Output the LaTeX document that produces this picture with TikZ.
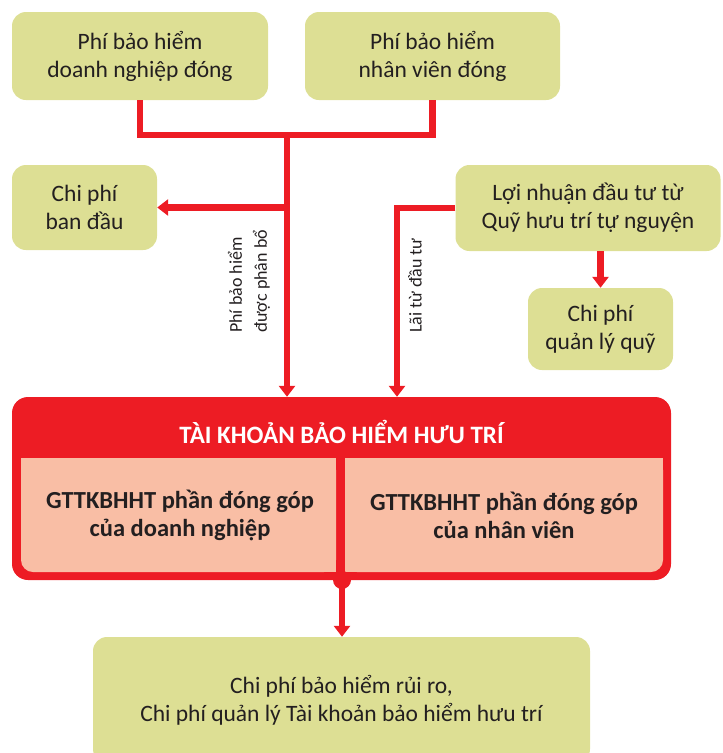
\documentclass[tikz,border=0pt]{standalone}
\usepackage{fontspec}
\setmainfont{Carlito}
\usetikzlibrary{arrows.meta}
\definecolor{boxg}{RGB}{221,223,148}
\definecolor{myred}{RGB}{237,28,36}
\definecolor{salmon}{RGB}{249,190,165}
\definecolor{txt}{RGB}{35,31,32}
\begin{document}
\begin{tikzpicture}[x=1pt,y=-1pt,
  gbox/.style={fill=boxg, rounded corners=14pt, align=center, text=txt,
    font=\fontsize{23.5}{28}\selectfont, inner sep=0pt},
  conn/.style={draw=myred, line width=6.5pt},
  arr/.style={conn, -{Triangle[length=11pt,width=16pt]}},
  rlabel/.style={rotate=90, align=left, text=txt, font=\fontsize{18}{25}\selectfont, inner sep=0pt, anchor=west},
  cell/.style={align=center, text=txt, font=\bfseries\fontsize{24.5}{28}\selectfont, inner sep=0pt}]
\useasboundingbox (0,0) rectangle (723,753);
% top boxes
\node[gbox, minimum width=256pt, minimum height=88pt] (b1) at (140,56) {Phí bảo hiểm\\doanh nghiệp đóng};
\node[gbox, minimum width=255pt, minimum height=88pt] (b2) at (432.5,56) {Phí bảo hiểm\\nhân viên đóng};
\node[gbox, minimum width=145pt, minimum height=85pt] (ban) at (84.5,207.5) {Chi phí\\ban đầu};
\node[gbox, minimum width=265pt, minimum height=86pt] (ln) at (588,208) {Lợi nhuận đầu tư từ\\Quỹ hưu trí tự nguyện};
\node[gbox, minimum width=145pt, minimum height=82pt] (ql) at (600.5,329) {Chi phí\\quản lý quỹ};
% main account box
\node[fill=myred, rounded corners=16pt, minimum width=659pt, minimum height=183pt, inner sep=0pt] (main) at (341.5,488.5) {};
\node[text=white, font=\bfseries\fontsize{25}{28}\selectfont, inner sep=0pt] (title) at (341.5,432) {TÀI KHOẢN BẢO HIỂM HƯU TRÍ};
\fill[salmon, rounded corners=12pt] (21,458) rectangle (336,572);
\fill[salmon] (21,458) rectangle (336,510);
\fill[salmon] (300,458) rectangle (336,572);
\fill[salmon, rounded corners=12pt] (345,458) rectangle (663,572);
\fill[salmon] (345,458) rectangle (663,510);
\fill[salmon] (345,458) rectangle (380,572);
\node[cell] (c1) at (180,515) {GTTKBHHT phần đóng góp\\của doanh nghiệp};
\node[cell] (c2) at (504,515) {GTTKBHHT phần đóng góp\\của nhân viên};
% bottom box
\node[gbox, minimum width=497pt, minimum height=126pt] (bot) at (341.5,700) {Chi phí bảo hiểm rủi ro,\\Chi phí quản lý Tài khoản bảo hiểm hưu trí};
% connectors
\coordinate (jm) at (287,135);
\draw[conn] (b1.south) -- (b1.south |- jm) -| (b2.south);
\draw[arr] (jm) -- (jm |- main.north);
\draw[arr] (ban.east -| jm) -- (ban.east);
\coordinate (jl) at (397,208);
\draw[arr] (ln.west) -- (jl) -- (jl |- main.north);
\draw[arr] (ql.north |- ln.south) -- (ql.north);
\fill[myred] (342,580) circle (9pt);
\coordinate (dot) at (342,580);
\draw[arr] (dot) -- (dot |- bot.north);
% rotated labels
\node[rlabel] (l1) at (249,333) {Phí bảo hiểm\\được phân bổ};
\node[rlabel] (l2) at (415,333) {Lãi từ đầu tư};
\end{tikzpicture}
\end{document}
